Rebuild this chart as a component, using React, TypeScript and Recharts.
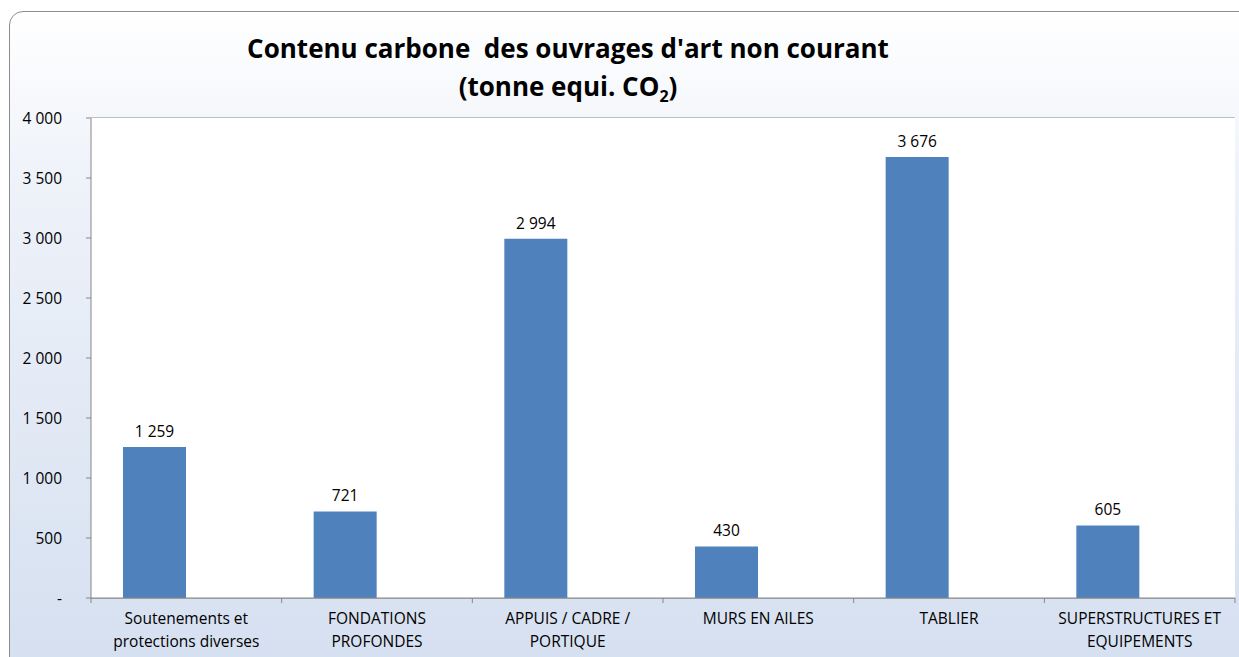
import { BarChart, Bar, XAxis, YAxis, CartesianGrid, LabelList } from 'recharts'

const categories = [
    'Soutenements et\nprotections diverses',
    'FONDATIONS\nPROFONDES',
    'APPUIS / CADRE /\nPORTIQUE',
    'MURS EN AILES',
    'TABLIER',
    'SUPERSTRUCTURES ET\nEQUIPEMENTS',
]
const carbonValues = [1259, 721, 2994, 430, 3676, 605]
// Excel chart had a second, empty series: it pushes each bar left of the category centre
const emptySeries: (number | null)[] = [null, null, null, null, null, null]
const yTicks = [0, 500, 1000, 1500, 2000, 2500, 3000, 3500, 4000]

const data = categories.map((c, i) => ({ category: c, value: carbonValues[i], empty: emptySeries[i] }))

const FONT = '"Open Sans", "Liberation Sans", sans-serif'
const W = 1239
const H = 657
const PLOT_LEFT = 91
const PLOT_RIGHT = 1235
const BAND = (PLOT_RIGHT - PLOT_LEFT) / categories.length

const fmt = (v: number) => (v === 0 ? '-' : v.toLocaleString('fr-FR').replace(/\s/g, ' '))

const CategoryTick = (props: any) => {
    const { x, y, payload, index } = props
    const lines = String(payload.value).split('\n')
    const left = x - BAND / 2
    return (
        <g>
            <line x1={left} x2={left} y1={y - 8} y2={y - 3} stroke="#868686" />
            {index === categories.length - 1 && (
                <line x1={left + BAND} x2={left + BAND} y1={y - 8} y2={y - 3} stroke="#868686" />
            )}
            <text x={x} y={y + 18} textAnchor="middle" fontSize={15.5} fontFamily={FONT} fill="#000">
                {lines.map((l, i) => (
                    <tspan key={i} x={x} dy={i === 0 ? 0 : 23}>
                        {l}
                    </tspan>
                ))}
            </text>
        </g>
    )
}

export default function App() {
    return (
        <div style={{ position: 'absolute', left: 0, top: 0, width: W, height: H, overflow: 'hidden', background: '#fff' }}>
            <div
                style={{
                    position: 'absolute',
                    left: 9,
                    top: 11,
                    width: W + 20,
                    height: H + 20,
                    border: '1px solid #8c8c8c',
                    borderRadius: 14,
                    background: 'linear-gradient(to bottom, #ffffff 0%, #eef2f9 25%, #d4dff0 100%)',
                }}
            />
            <div style={{ position: 'absolute', left: 0, top: 0 }}>
                <BarChart
                    width={W}
                    height={H}
                    data={data}
                    margin={{ top: 118, right: W - PLOT_RIGHT, bottom: 0, left: 11 }}
                    barSize={63}
                    barGap={0}
                >
                    <rect x={PLOT_LEFT} y={118} width={PLOT_RIGHT - PLOT_LEFT} height={480} fill="#fff" />
                    <text x={568} y={58} textAnchor="middle" fontSize={26} fontWeight="bold" fontFamily={FONT} fill="#000" style={{ whiteSpace: 'pre' }}>
                        {'Contenu carbone\u00A0 des ouvrages d\'art non courant'}
                    </text>
                    <text x={568} y={96} textAnchor="middle" fontSize={26} fontWeight="bold" fontFamily={FONT} fill="#000">
                        (tonne equi. CO<tspan fontSize={16} dy={6}>2</tspan>
                        <tspan dy={-6}>)</tspan>
                    </text>
                    <CartesianGrid vertical={false} stroke="#868686" />
                    <XAxis
                        dataKey="category"
                        interval={0}
                        height={59}
                        tickLine={false}
                        axisLine={{ stroke: '#868686' }}
                        tick={<CategoryTick />}
                    />
                    <YAxis
                        width={80}
                        domain={[0, 4000]}
                        ticks={yTicks}
                        tickFormatter={fmt}
                        tickSize={5}
                        tickMargin={24}
                        tickLine={{ stroke: '#868686' }}
                        axisLine={{ stroke: '#868686' }}
                        tick={{ fontSize: 15.5, fill: '#000', fontFamily: FONT }}
                    />
                    <Bar dataKey="value" fill="#4f81bd" isAnimationActive={false}>
                        <LabelList
                            dataKey="value"
                            position="top"
                            offset={10}
                            formatter={(v: any) => fmt(Number(v))}
                            style={{ fontSize: 15.5, fill: '#000', fontFamily: FONT }}
                        />
                    </Bar>
                    <Bar dataKey="empty" fill="#c0504d" isAnimationActive={false} />
                </BarChart>
            </div>
        </div>
    )
}
